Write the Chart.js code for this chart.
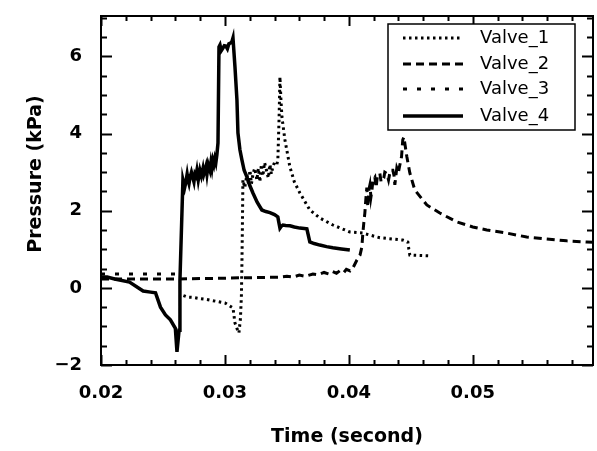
<!DOCTYPE html>
<html><head><meta charset="utf-8">
<script src="https://cdn.jsdelivr.net/npm/chart.js@4/dist/chart.umd.min.js"></script>
<style>html,body{margin:0;padding:0;background:#fff}canvas{display:block}</style>
</head><body>
<canvas id="c" width="597" height="451"></canvas>
<script>
// ---- data (time in s, pressure in kPa) ----
const seriesNames = ['Valve_1', 'Valve_2', 'Valve_3', 'Valve_4'];

const valve1Time = [
0.02665,0.0270,0.0275,0.0280,0.0285,0.0290,0.0295,0.0300,0.03065,0.03081,
0.03097,0.03113,0.03125,0.03133,0.03137,0.03141,0.03145,0.0316,0.03177,0.0319,
0.03202,0.03214,0.03226,0.0324,0.03258,0.0327,0.03282,0.03294,0.03306,0.0332,
0.03339,0.0335,0.03363,0.03375,0.03387,0.034,0.03419,0.03427,0.03437,0.03444,
0.03452,0.0346,0.03484,0.03524,0.0356,0.03605,0.03685,0.03766,0.03871,0.04008,
0.04113,0.0425,0.04435,0.04476,0.04484,0.04492,0.04653];
const valve1Pressure = [
-0.2,-0.24,-0.25,-0.28,-0.3,-0.33,-0.36,-0.39,-0.52,-0.91,
-1.05,-1.17,-0.8,-0.2,0.6,1.6,2.8,2.6,2.93,2.7,
3.05,2.7,2.95,3.1,2.8,3.1,2.75,3.2,2.9,3.25,
3.0,2.85,3.2,2.95,3.15,3.25,3.2,3.32,4.4,5.47,
4.87,4.43,3.84,3.14,2.75,2.46,2.02,1.81,1.63,1.45,
1.42,1.30,1.24,1.19,1.0,0.85,0.83];

const valve2Time = [
0.0200,0.0220,0.0240,0.0263,0.0280,0.0300,0.0312,0.0330,0.0345,0.0350,
0.0355,0.0360,0.0365,0.0371,0.0375,0.0380,0.0384,0.0387,0.0390,0.0393,
0.0396,0.0398,0.0401,0.0403,0.04065,0.0409,0.04105,0.04113,0.04121,0.04129,
0.04137,0.04145,0.04153,0.04162,0.0417,0.04178,0.04185,0.04195,0.0421,0.0422,
0.0423,0.0425,0.0426,0.04282,0.0429,0.04306,0.0432,0.04335,0.04355,0.04365,
0.04371,0.04387,0.044,0.04411,0.04425,0.04435,0.04444,0.04468,0.04492,0.04532,
0.04629,0.04734,0.04871,0.0500,0.05113,0.05274,0.05435,0.05597,0.05758,0.05919,
0.0597];
const valve2Pressure = [
0.23,0.23,0.23,0.23,0.24,0.25,0.26,0.27,0.28,0.30,
0.28,0.33,0.30,0.36,0.34,0.40,0.36,0.42,0.38,0.45,
0.40,0.48,0.44,0.50,0.72,0.85,1.06,1.42,1.7,1.94,
2.3,2.6,2.1,2.55,2.67,2.35,2.5,2.8,2.87,2.6,
2.9,2.97,2.75,2.85,3.0,2.97,2.8,3.05,3.05,2.9,
2.67,3.11,3.0,3.18,3.4,3.84,3.91,3.4,2.98,2.54,
2.15,1.94,1.71,1.58,1.50,1.42,1.32,1.27,1.22,1.19,
1.18];

const valve3Time = [0.0200, 0.0232, 0.0264];
const valve3Pressure = [0.36, 0.36, 0.36];

const valve4Time = [
0.0200,0.0205,0.0211,0.0223,0.0234,0.0240,0.0244,0.0248,0.0252,0.0256,
0.0260,0.02613,0.0263,0.02637,0.02661,0.02675,0.02685,0.02695,0.02702,0.0271,
0.02718,0.0273,0.02742,0.0275,0.02758,0.02766,0.02774,0.02785,0.02798,0.0281,
0.02823,0.0283,0.02839,0.02847,0.02855,0.02865,0.02879,0.02887,0.02895,0.02903,
0.02911,0.02919,0.02927,0.02935,0.02944,0.02952,0.0296,0.0297,0.02984,0.02995,
0.03008,0.0302,0.03032,0.03045,0.03056,0.03065,0.03081,0.03097,0.03105,0.03121,
0.03137,0.03155,0.03177,0.032,0.03226,0.0326,0.03298,0.0333,0.03363,0.034,
0.03427,0.03435,0.03444,0.03455,0.03468,0.0349,0.03524,0.0356,0.03605,0.0364,
0.03661,0.03685,0.0372,0.03766,0.0382,0.03871,0.0394,0.04008];
const valve4Pressure = [
0.28,0.28,0.23,0.15,-0.08,-0.11,-0.13,-0.5,-0.7,-0.83,
-1.05,-1.66,-1.1,0.2,2.8,2.6,2.75,2.95,2.8,2.7,
2.85,3.0,2.85,2.75,2.95,2.9,3.05,2.8,3.05,2.9,
3.1,2.95,3.05,3.15,2.95,3.2,3.05,3.25,3.1,3.3,
3.2,3.35,3.25,3.45,3.76,6.25,6.3,6.15,6.22,6.28,
6.27,6.2,6.33,6.35,6.38,6.48,5.73,4.87,4.02,3.58,
3.32,3.05,2.88,2.66,2.46,2.22,2.02,1.98,1.95,1.9,
1.84,1.7,1.55,1.6,1.63,1.62,1.61,1.58,1.55,1.54,
1.53,1.19,1.15,1.11,1.07,1.04,1.01,0.98];

const xMin = 0.02, xMax = 0.0597, xStep = 0.01, xMinorStep = 0.002;
const yMin = -2, yMax = 7.05, yStep = 2, yMinorStep = 0.5;
const xTitle = 'Time (second)';
const yTitle = '     Pressure (kPa)';

// ---- build ----
const pts = (t, p) => t.map((v, i) => ({x: v, y: p[i]}));
const styles = [
  {borderWidth: 3, borderDash: [2.5, 3.5]},
  {borderWidth: 3, borderDash: [8, 5]},
  {borderWidth: 3, borderDash: [4, 10]},
  {borderWidth: 3.5, borderDash: []}
];
const allData = [pts(valve1Time, valve1Pressure), pts(valve2Time, valve2Pressure),
                 pts(valve3Time, valve3Pressure), pts(valve4Time, valve4Pressure)];
const datasets = seriesNames.map((n, i) => Object.assign({
  label: n, data: allData[i], borderColor: '#000', backgroundColor: '#000',
  pointRadius: 0, tension: 0, fill: false
}, styles[i]));

const FONT = '"DejaVu Sans", sans-serif';

const framePlugin = {
  id: 'frame',
  afterDatasetsDraw(chart) {
    const {ctx, chartArea: a, scales: {x, y}} = chart;
    ctx.save();
    ctx.strokeStyle = '#000';
    ctx.lineWidth = 2;
    ctx.setLineDash([]);
    ctx.strokeRect(a.left, a.top, a.right - a.left, a.bottom - a.top);
    ctx.beginPath();
    const nx = Math.round((xMax - xMin) / xMinorStep);
    for (let i = 0; i <= nx; i++) {
      const v = xMin + i * xMinorStep;
      if (v > xMax + 1e-9) break;
      const px = Math.round(x.getPixelForValue(v)) + 0.5;
      const len = (i % 5 === 0) ? 10 : 5;
      ctx.moveTo(px, a.bottom); ctx.lineTo(px, a.bottom - len);
      ctx.moveTo(px, a.top); ctx.lineTo(px, a.top + len);
    }
    const ny = Math.round((yMax - yMin) / yMinorStep);
    for (let i = 0; i <= ny; i++) {
      const v = yMin + i * yMinorStep;
      if (v > yMax + 1e-9) break;
      const py = Math.round(y.getPixelForValue(v)) + 0.5;
      const len = (i % 4 === 0) ? 11 : 6;
      ctx.moveTo(a.left, py); ctx.lineTo(a.left + len, py);
      ctx.moveTo(a.right, py); ctx.lineTo(a.right - len, py);
    }
    ctx.stroke();
    ctx.restore();
  }
};

const legendPlugin = {
  id: 'boxLegend',
  afterDraw(chart) {
    const ctx = chart.ctx;
    const box = {l: 388, t: 24, r: 575, b: 130};
    const rows = [38, 64, 89, 116];
    ctx.save();
    ctx.fillStyle = '#fff';
    ctx.fillRect(box.l, box.t, box.r - box.l, box.b - box.t);
    ctx.strokeStyle = '#000';
    ctx.lineWidth = 1.5;
    ctx.setLineDash([]);
    ctx.strokeRect(box.l, box.t, box.r - box.l, box.b - box.t);
    chart.data.datasets.forEach((ds, i) => {
      const yy = rows[i];
      ctx.beginPath();
      ctx.setLineDash(ds.borderDash || []);
      ctx.lineWidth = ds.borderWidth;
      ctx.moveTo(403, yy); ctx.lineTo(463, yy);
      ctx.stroke();
      ctx.setLineDash([]);
      ctx.fillStyle = '#000';
      ctx.font = '18px ' + FONT;
      ctx.textBaseline = 'middle';
      ctx.textAlign = 'left';
      ctx.fillText(ds.label, 480, yy);
    });
    ctx.restore();
  }
};

new Chart(document.getElementById('c'), {
  type: 'line',
  data: {datasets},
  options: {
    responsive: false, animation: false, devicePixelRatio: 1,
    layout: {padding: {top: 16, right: 4, left: 0, bottom: 0}},
    plugins: {legend: {display: false}, tooltip: {enabled: false}},
    scales: {
      x: {
        type: 'linear', min: xMin, max: xMax,
        grid: {display: false, drawTicks: false},
        border: {display: false},
        ticks: {stepSize: xStep, includeBounds: false, padding: 18, color: '#000',
          font: {family: FONT, size: 18, weight: 'bold'},
          callback: v => v.toFixed(2), maxRotation: 0, autoSkip: false},
        title: {display: true, text: xTitle, color: '#000',
          font: {family: FONT, size: 19, weight: 'bold'}, padding: {top: 0, bottom: 3}},
        afterFit: s => { s.height = 86; s.paddingLeft = 0; s.paddingRight = 0; }
      },
      y: {
        type: 'linear', min: yMin, max: yMax,
        grid: {display: false, drawTicks: false},
        border: {display: false},
        ticks: {stepSize: yStep, includeBounds: false, padding: 19, color: '#000',
          font: {family: FONT, size: 18, weight: 'bold'},
          callback: v => (v < 0 ? '\u2212' + Math.abs(v) : String(v))},
        title: {display: true, text: yTitle, color: '#000',
          font: {family: FONT, size: 19, weight: 'bold'}, padding: {top: 25, bottom: 0}},
        afterFit: s => { s.width = 101; s.paddingTop = 0; s.paddingBottom = 0; }
      }
    }
  },
  plugins: [framePlugin, legendPlugin]
});
</script>
</body></html>
